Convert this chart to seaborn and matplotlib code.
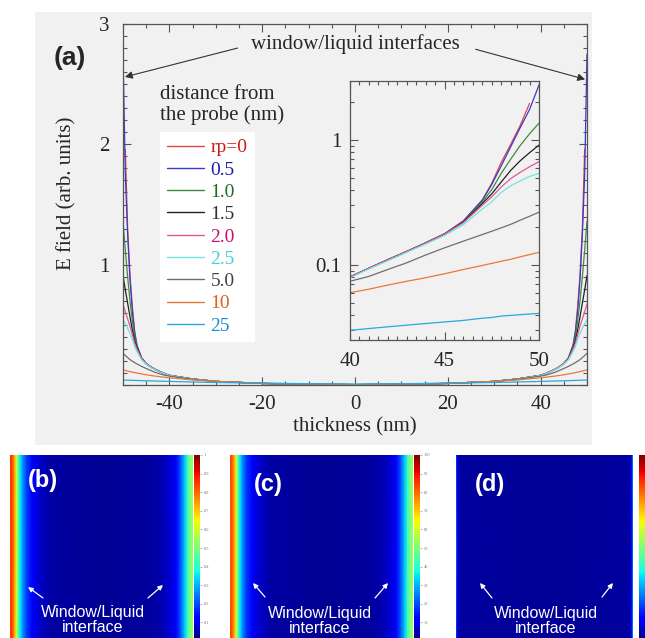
import numpy as np
import pandas as pd
import matplotlib
matplotlib.use("Agg")
import matplotlib.pyplot as plt
import seaborn as sns
from matplotlib.lines import Line2D
from matplotlib.patches import Rectangle
from matplotlib.ticker import MultipleLocator, FixedLocator, FixedFormatter, LogLocator, NullFormatter
import matplotlib.cm as cm
import matplotlib.colors as mcolors

# ---------------- data ----------------
thickness_half = [0, 10, 20, 30, 35, 40, 41, 42, 43, 44, 45, 46, 47, 47.5, 48, 48.5, 49, 49.5, 50]
series_labels = ["rp=0", "0.5", "1.0", "1.5", "2.0", "2.5", "5.0", "10", "25"]
E_rp00 = [.003, .006, .013, .030, .050, .080, .094, .110, .128, .150, .177, .225, .33, .45, .66, .92, 1.30, 1.96, np.nan]
E_rp05 = [.003, .006, .013, .030, .050, .080, .094, .110, .128, .150, .177, .225, .33, .44, .62, .88, 1.25, 1.75, 2.75]
E_rp10 = [.003, .006, .013, .030, .050, .080, .094, .110, .128, .150, .177, .222, .32, .40, .54, .70, .90, 1.12, 1.36]
E_rp15 = [.003, .006, .013, .030, .050, .080, .094, .110, .128, .150, .177, .220, .31, .37, .46, .57, .68, .79, .91]
E_rp20 = [.003, .006, .013, .030, .050, .080, .094, .110, .128, .150, .177, .218, .30, .35, .42, .49, .55, .61, .67]
E_rp25 = [.003, .006, .013, .030, .049, .079, .093, .108, .126, .147, .172, .210, .28, .32, .38, .43, .47, .51, .54]
E_rp50 = [.003, .006, .013, .030, .047, .074, .081, .092, .104, .120, .137, .155, .175, .186, .198, .211, .228, .245, .264]
E_rp100 = [.004, .008, .015, .030, .042, .060, .064, .069, .074, .079, .085, .092, .099, .103, .107, .111, .116, .121, .126]
E_rp250 = [.008, .011, .015, .021, .025, .030, .031, .032, .033, .034, .035, .036, .0375, .038, .039, .0395, .040, .0405, .041]
E_series = [E_rp00, E_rp05, E_rp10, E_rp15, E_rp20, E_rp25, E_rp50, E_rp100, E_rp250]

line_colors = ["#e04848", "#3a3ac8", "#3f8a3f", "#202020", "#e05898", "#70e4e4", "#6e6e6e", "#e87838", "#28a8dc"]
text_colors = ["#d01818", "#1a1aa8", "#1f6a1f", "#303030", "#c8106c", "#40d0d8", "#404040", "#d86020", "#1890c8"]

# cross-section field profiles (thickness in nm, field value)
heat_b_x = [-50, -49.6, -48.5, -47.5, -46.5, -45.5, -44.5, -43, -41, -38, -34, -28, 0, 28, 34, 38, 41, 43.5, 45.5, 47, 48.5, 50]
heat_b_v = [0.62, 0.86, 0.82, 0.74, 0.62, 0.46, 0.36, 0.27, 0.19, 0.12, 0.07, 0.035, 0.018, 0.03, 0.05, 0.08, 0.13, 0.22, 0.32, 0.42, 0.50, 0.55]
heat_c_x = [-50, -49.6, -48.5, -47.5, -46.5, -45.5, -44.5, -43, -41, -38, -34, -28, 0, 28, 34, 38, 41, 43.5, 45.5, 47, 48.5, 50]
heat_c_v = [65, 84, 80, 72, 60, 45, 35, 26, 18, 12, 7, 3.5, 1.8, 3, 5, 8, 13, 22, 32, 42, 50, 55]
heat_d_x = [-50, -49.5, -48.8, -47.5, 0, 47.5, 48.8, 49.5, 50]
heat_d_v = [0.40, 0.15, 0.06, 0.03, 0.02, 0.03, 0.06, 0.15, 0.35]
cbar_b_ticks = [0.1, 0.2, 0.3, 0.4, 0.5, 0.6, 0.7, 0.8, 0.9, 1.0]
cbar_b_labels = ["0.1", "0.2", "0.3", "0.4", "0.5", "0.6", "0.7", "0.8", "0.9", "1"]
cbar_c_ticks = [10, 20, 30, 40, 50, 60, 70, 80, 90, 100]
cbar_c_labels = ["10", "20", "30", "40", "50", "60", "70", "80", "90", "100"]

# ---------------- build long table ----------------
x_full = [-v for v in thickness_half[::-1]] + thickness_half[1:]
rows = []
for lab, vals in zip(series_labels, E_series):
    y_full = list(vals[::-1]) + list(vals[1:])
    for xx, yy in zip(x_full, y_full):
        rows.append((lab, xx, yy))
df = pd.DataFrame(rows, columns=["series", "thickness", "E"]).dropna()

# ---------------- figure ----------------
sns.set_style("ticks")
plt.rcParams["font.family"] = ["Liberation Serif", "DejaVu Serif"]
plt.rcParams["axes.unicode_minus"] = False

W, H = 645, 638
fig = plt.figure(figsize=(W / 100, H / 100), dpi=100)
fig.patch.set_facecolor("white")

def px_axes(x0, y0, x1, y1):
    return fig.add_axes([x0 / W, 1 - y1 / H, (x1 - x0) / W, (y1 - y0) / H])

bg = "#f1f1f1"
fig.patches.append(Rectangle((35 / W, 1 - 445 / H), (592 - 35) / W, (445 - 12) / H,
                             transform=fig.transFigure, facecolor=bg, edgecolor="none", zorder=-10))

pal = dict(zip(series_labels, line_colors))

# ---- main panel (a)
ax = px_axes(123, 24, 587, 385)
ax.set_facecolor(bg)
sns.lineplot(data=df, x="thickness", y="E", hue="series", hue_order=series_labels,
             palette=pal, estimator=None, sort=False, legend=False, lw=0.9, ax=ax)
ax.set_xlim(-50, 50)
ax.set_ylim(0, 3)
ax.xaxis.set_major_locator(FixedLocator([-40, -20, 0, 20, 40]))
ax.xaxis.set_minor_locator(MultipleLocator(5))
ax.yaxis.set_major_locator(FixedLocator([0, 1, 2, 3]))
ax.yaxis.set_major_formatter(FixedFormatter(["", "1", "2", "3"]))
ax.yaxis.set_minor_locator(MultipleLocator(0.1))
ax.tick_params(which="both", direction="in", top=True, right=True, color="#555555", width=0.8)
ax.tick_params(which="major", length=6, labelsize=15)
ax.tick_params(which="minor", length=3)
ax.tick_params(axis="x", pad=7.5)
ax.tick_params(axis="y", pad=9.5)
for s in ax.spines.values():
    s.set_color("#555555")
    s.set_linewidth(0.9)
ax.set_xlabel("thickness (nm)", fontsize=15)
ax.set_ylabel("E field (arb. units)", fontsize=15)
ax.xaxis.set_label_coords(0.5, -0.09)
ax.yaxis.set_label_coords(-0.100, 0.53)

arrow_kw = dict(arrowstyle="-|>", color="#333333", lw=0.8, mutation_scale=11, shrinkA=0, shrinkB=0)
ax.text(0, 2.83, "window/liquid interfaces", fontsize=15, ha="center", va="center")
ax.annotate("", xy=(-49.6, 2.56), xytext=(-25.3, 2.80), arrowprops=arrow_kw)
ax.annotate("", xy=(49.6, 2.54), xytext=(26.0, 2.79), arrowprops=arrow_kw)

fig.text(70 / W, 1 - 58 / H, "(a)", fontsize=19, fontweight="bold", family="Liberation Sans",
         ha="center", va="center")
fig.text(160 / W, 1 - 85 / H, "distance from\nthe probe (nm)", fontsize=15, ha="left", va="top",
         linespacing=1.1)

handles = [Line2D([], [], color=c, lw=1.0) for c in line_colors]
leg = ax.legend(handles, series_labels, loc="upper left", bbox_to_anchor=(160 / W, 1 - 132 / H),
                bbox_transform=fig.transFigure, frameon=True, fancybox=False, facecolor="white",
                edgecolor="white", framealpha=1, fontsize=14, handlelength=1.9, handletextpad=0.35,
                labelspacing=0.24, borderpad=0.35, borderaxespad=0)
for t, c in zip(leg.get_texts(), text_colors):
    t.set_color(c)

# ---- inset
axi = px_axes(350, 81, 539, 340)
axi.set_facecolor(bg)
df_in = df[df["thickness"] >= 40]
sns.lineplot(data=df_in, x="thickness", y="E", hue="series", hue_order=series_labels,
             palette=pal, estimator=None, sort=False, legend=False, lw=0.9, ax=axi)
axi.set_yscale("log")
axi.set_xlim(40, 50)
axi.set_ylim(0.0251, 2.96)
axi.xaxis.set_major_locator(FixedLocator([40, 45, 50]))
axi.xaxis.set_minor_locator(MultipleLocator(0.5))
axi.yaxis.set_major_locator(FixedLocator([0.1, 1]))
axi.yaxis.set_major_formatter(FixedFormatter(["0.1", "1"]))
axi.yaxis.set_minor_locator(LogLocator(base=10, subs=np.arange(2, 10)))
axi.yaxis.set_minor_formatter(NullFormatter())
axi.tick_params(which="both", direction="in", top=True, right=True, color="#555555", width=0.8)
axi.tick_params(which="major", length=6, labelsize=15)
axi.tick_params(which="minor", length=3)
axi.tick_params(axis="x", pad=9)
axi.tick_params(axis="y", pad=6)
axi.set_xlabel("")
axi.set_ylabel("")
for s in axi.spines.values():
    s.set_color("#555555")
    s.set_linewidth(0.9)

# ---- bottom panels (b), (c), (d)
panels = [
    dict(img=(10, 193), cb=(194, 200), xs=heat_b_x, vs=heat_b_v, vmax=1.0,
         ticks=cbar_b_ticks, labels=cbar_b_labels, tag="(b)", tagpos=(43, 481),
         txt=(93, 605), arrows=[((28, 587), (43, 598)), ((163, 585), (148, 598))]),
    dict(img=(230, 413), cb=(414, 420), xs=heat_c_x, vs=heat_c_v, vmax=100.0,
         ticks=cbar_c_ticks, labels=cbar_c_labels, tag="(c)", tagpos=(268, 484),
         txt=(320, 606), arrows=[((253, 583), (265, 597)), ((388, 583), (375, 598))]),
    dict(img=(456, 633), cb=(639, 646), xs=heat_d_x, vs=heat_d_v, vmax=1.0,
         ticks=[], labels=[], tag="(d)", tagpos=(490, 485),
         txt=(546, 606), arrows=[((480, 583), (492, 598)), ((613, 583), (602, 597))]),
]
for p in panels:
    axh = px_axes(p["img"][0], 455, p["img"][1], 641)
    vals = np.array(p["vs"], dtype=float)
    axh.pcolormesh(np.array(p["xs"], dtype=float), np.array([0.0, 1.0]), np.vstack([vals, vals]),
                   shading="gouraud", cmap="jet", vmin=0, vmax=p["vmax"])
    axh.set_xlim(-50, 50)
    axh.set_ylim(0, 1)
    axh.set_axis_off()
    cax = px_axes(p["cb"][0], 455, p["cb"][1], 641)
    sm = cm.ScalarMappable(norm=mcolors.Normalize(0, p["vmax"]), cmap="jet")
    cbar = fig.colorbar(sm, cax=cax)
    cbar.outline.set_visible(False)
    cbar.set_ticks(p["ticks"])
    if p["labels"]:
        cbar.set_ticklabels(p["labels"])
    cax.tick_params(labelsize=3.2, length=1.2, width=0.4, colors="#777777", pad=1.5)
    fig.text(p["tagpos"][0] / W, 1 - p["tagpos"][1] / H, p["tag"], color="white", fontsize=17,
             fontweight="bold", family="Liberation Sans", ha="center", va="center")
    fig.text(p["txt"][0] / W, 1 - p["txt"][1] / H, "Window/Liquid\ninterface", color="white",
             fontsize=11.5, family="Liberation Sans", ha="center", va="top", linespacing=1.0)
    for tip, tail in p["arrows"]:
        axh.annotate("", xy=(tip[0], H - tip[1]), xycoords="figure pixels",
                     xytext=(tail[0], H - tail[1]), textcoords="figure pixels",
                     arrowprops=dict(arrowstyle="-|>", color="white", lw=0.9, mutation_scale=7,
                                     shrinkA=0, shrinkB=0))

fig.savefig("out.png", dpi=100)
